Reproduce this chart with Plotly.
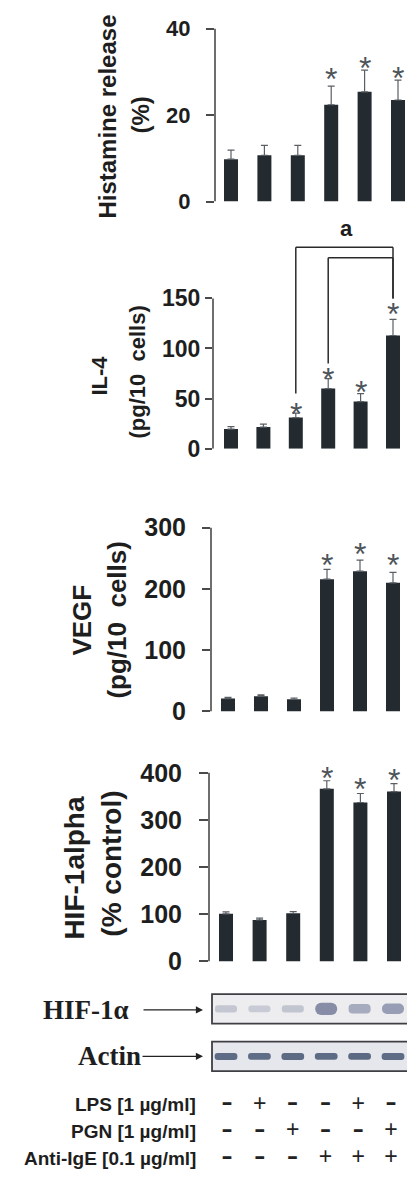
import plotly.graph_objects as go

W, H = 407, 1184

# ---------------- data ----------------
lanes = [0, 1, 2, 3, 4, 5]

hist_vals = [9.8, 10.7, 10.7, 22.4, 25.4, 23.5]
hist_tops = [11.9, 13.0, 13.0, 26.7, 30.4, 28.1]
hist_star_lanes = [3, 4, 5]
hist_star_y = [29.9, 32.5, 30.2]

il4_vals = [19.5, 21.5, 31, 60, 47, 113]
il4_tops = [22, 24.5, 35.5, 70, 55, 129]
il4_star_lanes = [2, 3, 4, 5]
il4_star_y = [41.4, 77, 63.2, 141]

vegf_vals = [21, 25, 20, 216, 229, 210]
vegf_tops = [23, 27, 22, 232, 247, 227]
vegf_star_lanes = [3, 4, 5]
vegf_star_y = [250, 267.7, 250]

hif_vals = [101, 88, 102, 366, 337, 360]
hif_tops = [105, 92, 106, 383, 356, 377]
hif_star_lanes = [3, 4, 5]
hif_star_y = [404, 381, 400]

# IL-4 significance brackets: (left lane, right lane, top level, left-leg bottom, right-leg bottom)
brackets = [(2, 5, 201, 55, 150), (3, 5, 190.5, 85, 150)]
bracket_label = "a"

hist_ticks = [0, 20, 40]
il4_ticks = [0, 50, 100, 150]
vegf_ticks = [0, 100, 200, 300]
hif_ticks = [0, 100, 200, 300, 400]

# western blot band appearance per lane
hif_band_colors = ["#c4c7d2", "#c8cbd5", "#c1c5d0", "#878da6", "#a6abbe", "#979db4"]
hif_band_heights = [0.15, 0.14, 0.15, 0.26, 0.2, 0.22]
actin_band_colors = ["#5e6c86", "#5f6d87", "#5c6a84", "#5d6b85", "#5b6983", "#5e6c86"]
actin_band_heights = [0.15, 0.14, 0.15, 0.14, 0.14, 0.15]

row_labels = ["Anti-IgE [0.1 \u00b5g/ml]", "PGN [1 \u00b5g/ml]", "LPS [1 \u00b5g/ml]"]
lps = ["-", "+", "-", "-", "+", "-"]
pgn = ["-", "-", "+", "-", "-", "+"]
anti_ige = ["-", "-", "-", "+", "+", "+"]

# ---------------- style ----------------
BAR = "#232b31"
ERR = "#5a5f64"
AX = "#4a4a4a"
TXT = "#1e1e1e"
STAR = "#4d545a"
FONT = "Liberation Sans"


def px(p):
    return p / W


def py(p):
    return 1 - p / H


fig = go.Figure()

panels = [
    # name, vals, tops, star lanes, star y, ticks, axis-left px, first centre px, spacing px,
    # y0 px, top-tick px, top tick value, extended top px, tickfont, standoff, ticklen
    ("", hist_vals, hist_tops, hist_star_lanes, hist_star_y, hist_ticks, 215, 231, 33.4, 204, 29, 40, 8, 22, 11, 8),
    ("2", il4_vals, il4_tops, il4_star_lanes, il4_star_y, il4_ticks, 213, 231, 32.4, 454, 302, 150, 240, 23, 0, 7),
    ("3", vegf_vals, vegf_tops, vegf_star_lanes, vegf_star_y, vegf_ticks, 211, 228, 33.0, 720, 534, 300, 500, 25, 11, 8),
    ("4", hif_vals, hif_tops, hif_star_lanes, hif_star_y, hif_ticks, 209, 226, 33.6, 973, 782, 400, 755, 25, 12, 9),
]

shapes = []
annotations = []
layout_axes = {}

for (n, vals, tops, sl, sy, ticks, L, c0, s, y0p, ytp, ymax, top_px, tf, so, tl) in panels:
    xa = "x" + n
    ya = "y" + n
    errs = [t - v for t, v in zip(tops, vals)]
    fig.add_trace(go.Bar(
        x=lanes, y=vals, width=14 / s, marker=dict(color=BAR, line=dict(width=0)),
        error_y=dict(type="data", array=errs, arrayminus=[0] * 6, symmetric=False,
                     color=ERR, thickness=1.2, width=3.5),
        xaxis=xa, yaxis=ya, hoverinfo="skip"))
    for lx, yy in zip(sl, sy):
        annotations.append(dict(x=lx, y=yy, xref=xa, yref=ya, text="*", showarrow=False,
                                font=dict(family=FONT, size=32, color=STAR), yshift=-7))
    rng_top = ymax * (y0p - top_px) / (y0p - ytp)
    # visible y-axis line only from 0 to the top tick
    shapes.append(dict(type="line", xref=xa + " domain", yref=ya, x0=0, x1=0, y0=0, y1=ymax,
                       line=dict(color=AX, width=1.6)))
    layout_axes["xaxis" + n] = dict(domain=[px(L), 1], range=[(L - c0) / s, (W - c0) / s],
                                    showline=False, showticklabels=False, ticks="", showgrid=False,
                                    zeroline=False, anchor=ya, fixedrange=True)
    layout_axes["yaxis" + n] = dict(domain=[py(y0p), py(top_px)], range=[0, rng_top], anchor=xa,
                                    showline=False, ticks="outside",
                                    ticklen=tl, tickwidth=1.6, tickcolor=AX, tickvals=ticks,
                                    ticklabelstandoff=so, showgrid=False, zeroline=False,
                                    tickfont=dict(family=FONT, size=tf, color=TXT, weight="bold"),
                                    fixedrange=True)

# brackets (IL-4)
for (a, b, top, lb, rb) in brackets:
    shapes.append(dict(type="line", xref="x2", yref="y2", x0=a, x1=b, y0=top, y1=top,
                       line=dict(color="#2a2a2a", width=1.5)))
    shapes.append(dict(type="line", xref="x2", yref="y2", x0=a, x1=a, y0=top, y1=lb,
                       line=dict(color="#2a2a2a", width=1.5)))
    shapes.append(dict(type="line", xref="x2", yref="y2", x0=b, x1=b, y0=top, y1=rb,
                       line=dict(color="#2a2a2a", width=1.5)))
annotations.append(dict(x=3.55, y=brackets[0][2], xref="x2", yref="y2", text=bracket_label,
                        showarrow=False, yanchor="bottom", yshift=4,
                        font=dict(family=FONT, size=22, color=TXT, weight="bold")))

# y-axis titles
def vtitle(text, cx, cy, size):
    annotations.append(dict(x=px(cx), y=py(cy), xref="paper", yref="paper", text=text,
                            textangle=-90, showarrow=False, xanchor="center", yanchor="middle",
                            font=dict(family=FONT, size=size, color=TXT, weight="bold")))

vtitle("Histamine release", 108, 118, 24)
vtitle("(%)", 141, 117, 24)
vtitle("IL-4", 100, 380, 22)
vtitle("(pg/10\u00a0\u00a0cells)", 138, 377, 22)
vtitle("VEGF", 82, 628, 26)
vtitle("(pg/10\u00a0\u00a0cells)", 117, 627, 26)
vtitle("HIF-1alpha", 75, 878, 28)
vtitle("(% control)", 112, 874, 28)

# ---------------- western blot ----------------
bL, bc0, bs = 205, 226, 33.4
layout_axes["xaxis5"] = dict(domain=[px(bL), 1], range=[(bL - bc0) / bs, (W - bc0) / bs],
                             visible=False, fixedrange=True, anchor="y5")
# rows: 1 = HIF-1a, 0 = actin ; 48 px per unit, HIF row at 1021 px
layout_axes["yaxis5"] = dict(domain=[py(1098), py(992)], range=[-0.6, 1.6], visible=False,
                             fixedrange=True, anchor="x5")
box_x0 = (212 - bc0) / bs
for row, fill in [(1, "#ededf0"), (0, "#e5e7ec")]:
    shapes.append(dict(type="rect", xref="x5", yref="y5", x0=box_x0, x1=6.0, y0=row - 0.31,
                       y1=row + 0.31, fillcolor=fill, line=dict(color="#3e3e44", width=1.8),
                       layer="below"))
fig.add_trace(go.Bar(x=lanes, y=hif_band_heights, base=[1 - h / 2 for h in hif_band_heights],
                     width=0.66,
                     marker=dict(color=hif_band_colors, line=dict(width=0), cornerradius="45%"),
                     xaxis="x5", yaxis="y5", hoverinfo="skip"))
fig.add_trace(go.Bar(x=lanes, y=actin_band_heights, base=[-h / 2 for h in actin_band_heights],
                     width=0.68,
                     marker=dict(color=actin_band_colors, line=dict(width=0), cornerradius="45%"),
                     xaxis="x5", yaxis="y5", hoverinfo="skip"))

for label, cy, tx in [("HIF-1\u03b1", 1022, 86), ("Actin", 1069, 109)]:
    annotations.append(dict(x=px(tx), y=py(cy), xref="paper", yref="paper", text=label,
                            showarrow=False, xanchor="center", yanchor="middle",
                            font=dict(family="Liberation Serif", size=27, color=TXT, weight="bold")))
for sx, cy in [(142, 1022), (141, 1069)]:
    annotations.append(dict(x=px(203), y=py(cy), xref="paper", yref="paper", text="",
                            showarrow=True, ax=sx - 203, ay=0, axref="pixel", ayref="pixel",
                            arrowhead=2, arrowsize=1.1, arrowwidth=1.3, arrowcolor="#222"))

# ---------------- treatment table ----------------
tL, tc0, ts = 205, 227, 32.8
layout_axes["xaxis6"] = dict(domain=[px(tL), 1], range=[(tL - tc0) / ts, (W - tc0) / ts],
                             visible=False, fixedrange=True, anchor="y6")
layout_axes["yaxis6"] = dict(domain=[0, py(1100)], range=[-0.444, 2.667], visible=False,
                             fixedrange=True, anchor="x6")
plus_x, plus_y, minus_x, minus_y = [], [], [], []
for row, signs in [(2, lps), (1, pgn), (0, anti_ige)]:
    for lane, sg in zip(lanes, signs):
        if sg == "+":
            plus_x.append(lane); plus_y.append(row)
        else:
            minus_x.append(lane); minus_y.append(row)
fig.add_trace(go.Scatter(x=plus_x, y=plus_y, mode="text", text=["+"] * len(plus_x),
                         textposition="middle center",
                         textfont=dict(family=FONT, size=23, color="#222"),
                         xaxis="x6", yaxis="y6", hoverinfo="skip", cliponaxis=False))
fig.add_trace(go.Scatter(x=minus_x, y=minus_y, mode="text", text=["\u2013"] * len(minus_x),
                         textposition="middle center",
                         textfont=dict(family="DejaVu Sans", size=22, color="#222", weight="bold"),
                         xaxis="x6", yaxis="y6", hoverinfo="skip", cliponaxis=False))
for row, lab in enumerate(row_labels):
    annotations.append(dict(x=px(198), y=row, xref="paper", yref="y6", text=lab, showarrow=False,
                            xanchor="right", yanchor="middle",
                            font=dict(family=FONT, size=19, color=TXT, weight="bold")))

fig.update_layout(width=W, height=H, margin=dict(l=0, r=0, t=0, b=0),
                  paper_bgcolor="white", plot_bgcolor="rgba(0,0,0,0)", showlegend=False,
                  barmode="overlay", shapes=shapes, annotations=annotations, **layout_axes)
fig.write_html("out.html", config={"displayModeBar": False},
               post_script="document.body.style.margin='0';document.body.style.padding='0';"
                           "document.documentElement.style.overflow='hidden';")
